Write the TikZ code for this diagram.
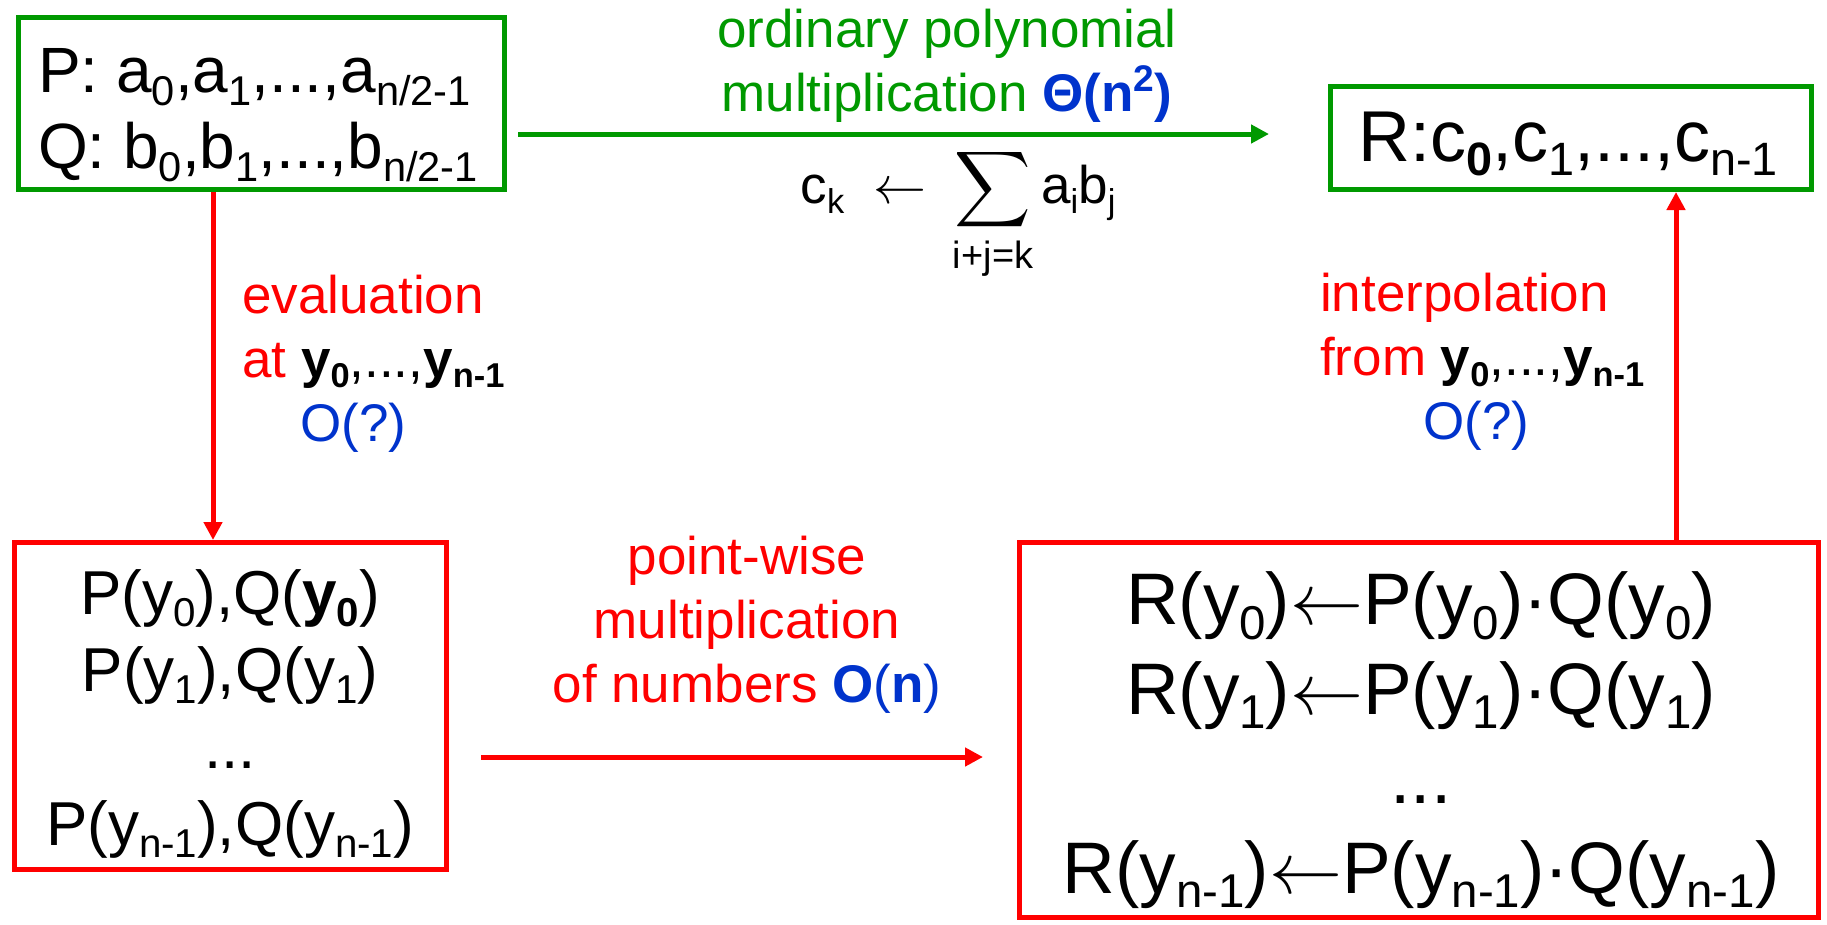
\RequirePackage{fix-cm}
\documentclass[tikz,border=0pt]{standalone}
\usepackage{graphicx}
\usepackage{fontspec}
\setmainfont{Liberation Sans}
\usetikzlibrary{arrows.meta,positioning,calc}
\definecolor{polygreen}{HTML}{009900}
\definecolor{evalred}{HTML}{FF0000}
\definecolor{costblue}{HTML}{0033CC}
% big operators at any size
\DeclareFontShape{OMX}{cmex}{m}{n}{<->cmex10}{}
% lowered index, as the slide sets it
\newcommand{\lo}[1]{\raisebox{-0.2em}{\scalebox{0.65}{#1}}}
\newcommand{\larr}{$\mathord{\leftarrow}$}

\begin{document}
\begin{tikzpicture}[x=1pt,y=-1pt,
  frame/.style={draw, line width=5pt, inner sep=0pt},
  coef/.style={frame, draw=polygreen},
  vals/.style={frame, draw=evalred},
  tip/.style={-{Triangle[length=18pt,width=18pt]}, line width=5pt},
  lbl/.style={inner sep=0pt, font=\fontsize{53}{64}\selectfont}]
  \useasboundingbox (0,0) rectangle (1827,924);

  % boxes
  \node[coef, minimum width=486pt, minimum height=172pt] (pq) at (261.5,103.5) {};
  \node[coef, minimum width=481pt, minimum height=103pt] (r) at (1571,138) {};
  \node[vals, minimum width=432pt, minimum height=327pt] (pqy) at (230.5,706) {};
  \node[vals, minimum width=799pt, minimum height=375pt] (ry) at (1419,730) {};

  % box contents
  \node[inner sep=0pt, align=left, font=\fontsize{64}{76}\selectfont] (pqtext) at (258,115)
    {P: a\lo{0},a\lo{1},...,a\lo{n/2-1}\\
     Q: b\lo{0},b\lo{1},...,b\lo{n/2-1}};
  \node[inner sep=0pt, font=\fontsize{72}{80}\selectfont] (rtext) at (1568,144)
    {R:c\lo{\textbf{0}},c\lo{1},...,c\lo{n-1}};
  \node[inner sep=0pt, align=center, font=\fontsize{62}{77}\selectfont] (pqytext) at (230,714)
    {P(y\lo{0}),Q(\textbf{y\lo{0}})\\
     P(y\lo{1}),Q(y\lo{1})\\
     ...\\
     P(y\lo{n-1}),Q(y\lo{n-1})};
  \node[inner sep=0pt, align=center, font=\fontsize{73}{89.5}\selectfont] (rytext) at (1421,740)
    {R(y\lo{0})\larr P(y\lo{0})·Q(y\lo{0})\\
     R(y\lo{1})\larr P(y\lo{1})·Q(y\lo{1})\\
     ...\\
     R(y\lo{n-1})\larr P(y\lo{n-1})·Q(y\lo{n-1})};

  % arrow labels
  \node[lbl, text=polygreen, align=center] (mullbl) at (947,65.5)
    {ordinary polynomial\\multiplication \textcolor{costblue}{\textbf{Θ(n\textsuperscript{2})}}};
  \node[lbl, anchor=base] (sumlbl) at (958,203)
    {c\lo{k}\hspace{0.55em}\larr\hspace{0.5em}$\displaystyle\sum\limits_{\mbox{\fontsize{38}{38}\selectfont i+j=k}}$\hspace{0.15em}a\lo{i}b\lo{j}};
  \node[lbl, text=evalred, align=left, anchor=west] (evallbl) at (242,363.5)
    {evaluation\\
     at \textcolor{black}{\textbf{y\lo{0}},...,\textbf{y\lo{n-1}}}\\
     \hspace*{58pt}\textcolor{costblue}{O(?)}};
  \node[lbl, text=evalred, align=left, anchor=west] (interplbl) at (1320,362)
    {interpolation\\
     from \textcolor{black}{\textbf{y\lo{0}},...,\textbf{y\lo{n-1}}}\\
     \hspace*{103pt}\textcolor{costblue}{O(?)}};
  \node[lbl, text=evalred, align=center] (pwlbl) at (747,625)
    {point-wise\\multiplication\\of numbers \textcolor{costblue}{\textbf{O}(\textbf{n})}};

  % arrows
  \coordinate (mulrow) at (0,134);
  \coordinate (pwrow) at (0,757);
  \coordinate (evalcol) at (213,0);
  \coordinate (interpcol) at (1676,0);
  \draw[tip, polygreen, shorten <=11pt, shorten >=59pt] (pq.east |- mulrow) -- (r.west |- mulrow);
  \draw[tip, evalred] (pq.south -| evalcol) -- (pqy.north -| evalcol);
  \draw[tip, evalred, shorten <=32pt, shorten >=34pt] (pqy.east |- pwrow) -- (ry.west |- pwrow);
  \draw[tip, evalred] (ry.north -| interpcol) -- (r.south -| interpcol);
\end{tikzpicture}
\end{document}
